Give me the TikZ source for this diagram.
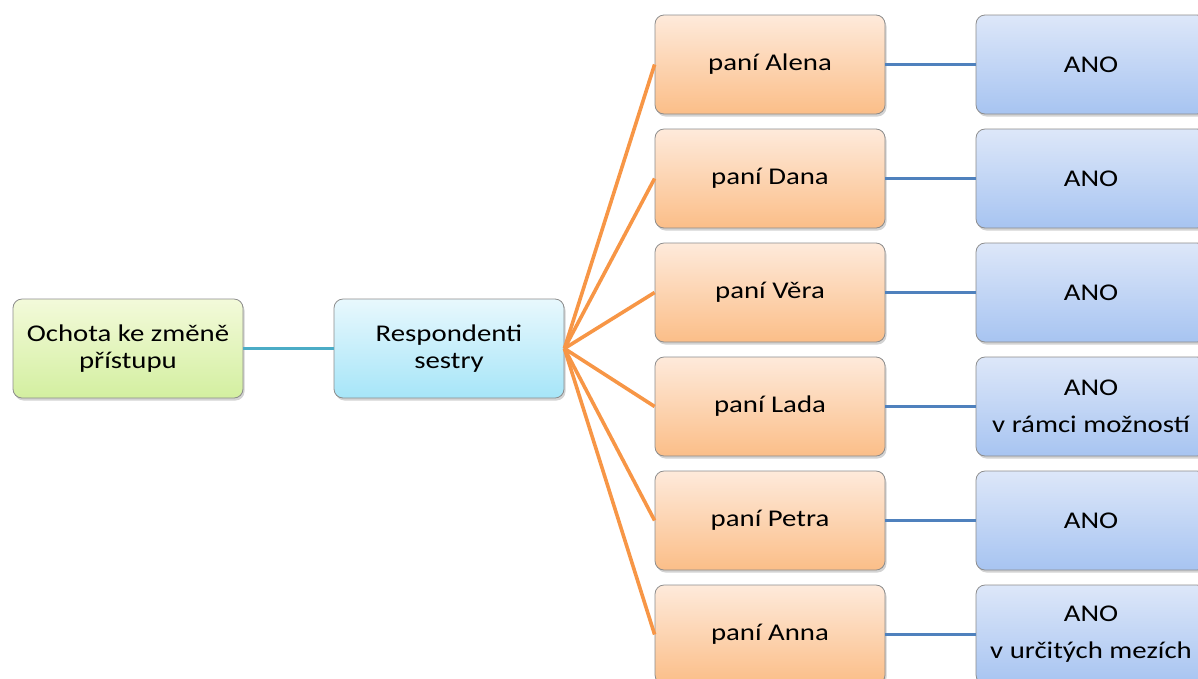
\documentclass[tikz,border=0pt]{standalone}
\usepackage{fontspec}
\setmainfont{Carlito}[FakeStretch=1.2]
\usetikzlibrary{shadows}
\definecolor{bordergray}{HTML}{8C8C8C}
\definecolor{orgtop}{HTML}{FEEADB}
\definecolor{orgbot}{HTML}{FBBE88}
\definecolor{blutop}{HTML}{DDE7F9}
\definecolor{blubot}{HTML}{A7C4F1}
\definecolor{grntop}{HTML}{F3FADA}
\definecolor{grnbot}{HTML}{D3EFA0}
\definecolor{cyntop}{HTML}{E8F8FD}
\definecolor{cynbot}{HTML}{A6E5F8}
\definecolor{lineteal}{HTML}{4BACC6}
\definecolor{lineorg}{HTML}{F79646}
\definecolor{lineblue}{HTML}{4F81BD}
\tikzset{
  box/.style={draw=bordergray, line width=0.8pt, rounded corners=9pt,
    minimum width=230pt, minimum height=99pt, inner sep=2pt, align=center,
    font=\fontsize{24pt}{27pt}\selectfont,
    drop shadow={shadow xshift=1.5pt, shadow yshift=-2.5pt, opacity=0.35}},
  greenbox/.style={box, top color=grntop, bottom color=grnbot},
  cyanbox/.style={box, top color=cyntop, bottom color=cynbot},
  orangebox/.style={box, top color=orgtop, bottom color=orgbot},
  bluebox/.style={box, top color=blutop, bottom color=blubot},
  tealline/.style={draw=lineteal, line width=3.6pt},
  orgline/.style={draw=lineorg, line width=3.6pt},
  blueline/.style={draw=lineblue, line width=3.8pt}
}
\begin{document}
\begin{tikzpicture}[x=1pt,y=-1pt]
\useasboundingbox (0,0) rectangle (1198,678);
\clip (0,0) rectangle (1198,678);
\node[greenbox] (root) at (128,348.5) {Ochota ke změně\\přístupu};
\node[cyanbox] (resp) at (449,348.5) {Respondenti\\sestry};
\node[orangebox] (p1) at (770,64.5) {paní Alena};
\node[orangebox] (p2) at (770,178.5) {paní Dana};
\node[orangebox] (p3) at (770,292.5) {paní Věra};
\node[orangebox] (p4) at (770,406.5) {paní Lada};
\node[orangebox] (p5) at (770,520.5) {paní Petra};
\node[orangebox] (p6) at (770,634.5) {paní Anna};
\node[bluebox] (a1) at (1091,64.5) {ANO};
\node[bluebox] (a2) at (1091,178.5) {ANO};
\node[bluebox] (a3) at (1091,292.5) {ANO};
\node[bluebox] (a4) at (1091,406.5) {ANO\\[10pt]v rámci možností};
\node[bluebox] (a5) at (1091,520.5) {ANO};
\node[bluebox] (a6) at (1091,634.5) {ANO\\[10pt]v určitých mezích};
\draw[tealline] (root.east) -- (resp.west);
\foreach \i in {1,...,6}{
  \draw[orgline] (resp.east) -- (p\i.west);
  \draw[blueline] (p\i.east) -- (a\i.west);
}
\end{tikzpicture}
\end{document}
